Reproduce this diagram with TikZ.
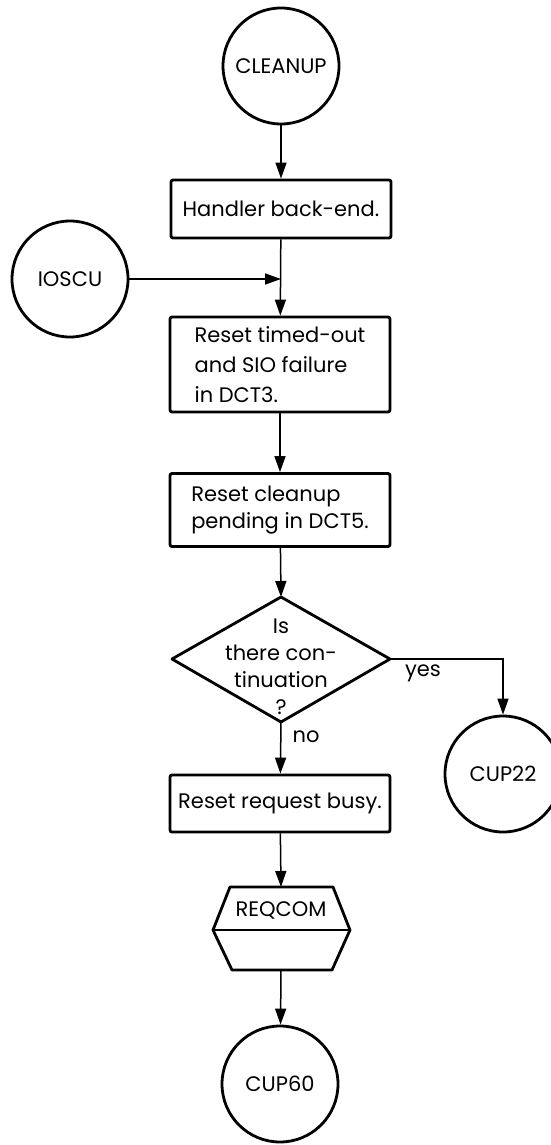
\documentclass[tikz,border=0pt]{standalone}
\usepackage{fontspec}
\setmainfont{Poppins}
\usetikzlibrary{arrows.meta}
\newcommand\fsz{\fontsize{21}{30}\selectfont}
\begin{document}
\begin{tikzpicture}[x=1pt,y=-1pt,
  proc/.style={draw, line width=2.8pt, rounded corners=2pt, minimum width=220pt, inner sep=0pt, font=\fsz},
  term/.style={draw, circle, line width=2.8pt, minimum size=116pt, inner sep=0pt, font=\fsz},
  flow/.style={line width=1.5pt, -{Triangle[length=16pt,width=11pt]}},
  lbl/.style={font=\fsz, inner sep=0pt}]
\useasboundingbox (0,0) rectangle (550,1145);
\fill[white] (0,0) rectangle (550,1145);
% terminals
\node[term] (cleanup) at (281,66) {CLEANUP};
\node[term] (ioscu) at (70,279) {IOSCU};
\node[term] (cup22) at (503,774) {CUP22};
\node[term] (cup60) at (280,1084) {CUP60};
% process boxes
\node[proc, minimum height=58pt] (box1) at (281,209) {Handler back-end.};
\node[proc, minimum height=95pt, align=left] (box2) at (280,364.5) {Reset timed-out\\and SIO failure\\in DCT3.};
\node[proc, minimum height=73pt, align=left, font=\fontsize{21}{27}\selectfont] (box3) at (280,510) {Reset cleanup\\pending in DCT5.};
\node[proc, minimum height=57pt] (box4) at (280,803.5) {Reset request busy.};
% decision
\coordinate (dtop) at (281,597);
\coordinate (dright) at (390,659);
\coordinate (dbot) at (281,722);
\coordinate (dleft) at (172,659);
\draw[line width=2.8pt, line join=round] (dtop) -- (dright) -- (dbot) -- (dleft) -- cycle;
\node[font=\fontsize{21}{27}\selectfont, align=center, inner sep=0pt] (dtext) at (281,667) {Is\\there con-\\tinuation\\?};
% REQCOM
\coordinate (rqtop) at (281,887);
\coordinate (rqbot) at (281,970);
\draw[line width=2.8pt, line join=round] (230,887) -- (333,887) -- (350,930) -- (332,970) -- (232,970) -- (213,930) -- cycle;
\draw[line width=2.8pt] (213,930) -- (350,930);
\node[lbl] (reqcom) at (281,910) {REQCOM};
% connectors
\coordinate (merge) at (281,279);
\draw[flow] (cleanup) -- (box1);
\draw[flow] (box1) -- (box2);
\draw[flow] (ioscu) -- (merge);
\draw[flow] (box2) -- (box3);
\draw[flow] (box3) -- (dtop);
\draw[flow] (dright) -| (cup22);
\draw[flow] (dbot) -- (box4);
\draw[flow] (box4) -- (rqtop);
\draw[flow] (rqbot) -- (cup60);
% labels
\node[lbl] (yes) at (423,673) {yes};
\node[lbl] (no) at (306,737) {no};
\end{tikzpicture}
\end{document}
